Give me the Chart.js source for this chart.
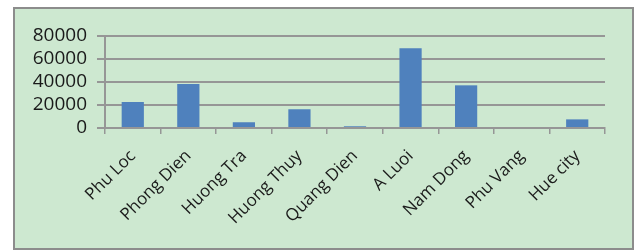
<!DOCTYPE html>
<html>
<head>
<meta charset="utf-8">
<script src="https://cdn.jsdelivr.net/npm/chart.js@4"></script>
<style>
  body { margin: 0; background: #ffffff; }
  #frame {
    position: absolute;
    left: 13px;
    top: 7px;
    width: 621px;
    height: 243px;
    box-sizing: border-box;
    border: 2px solid #8c8c8c;
    background: #cde8d0;
  }
  #chart { display: block; }
</style>
</head>
<body>
<div id="frame">
  <canvas id="chart" width="617" height="239"></canvas>
</div>
<script>
// districts and their values
const districts = ["Phu Loc", "Phong Dien", "Huong Tra", "Huong Thuy", "Quang Dien",
                   "A Luoi", "Nam Dong", "Phu Vang", "Hue city"];
const values = [22600, 38200, 5000, 16300, 1500, 69300, 37100, 0, 7500];
const yTicks = [0, 20000, 40000, 60000, 80000];

const gridColor = "#969696";
const textColor = "#1a1a1a";

const ctx = document.getElementById("chart");

new Chart(ctx, {
    type: "bar",
    data: {
        labels: districts,
        datasets: [{
            data: values,
            backgroundColor: "#4f81bd",
            borderWidth: 0,
            barPercentage: 0.4,
            categoryPercentage: 1
        }]
    },
    options: {
        responsive: false,
        animation: false,
        devicePixelRatio: 1,
        layout: {
            padding: { top: 27, right: 27, left: 0, bottom: 0 }
        },
        plugins: {
            legend: { display: false },
            tooltip: { enabled: false }
        },
        scales: {
            x: {
                grid: {
                    drawOnChartArea: false,
                    color: gridColor,
                    lineWidth: 1.5,
                    tickLength: 6
                },
                border: { color: gridColor, width: 2 },
                ticks: {
                    color: textColor,
                    font: { family: "Open Sans", size: 17 },
                    minRotation: 45,
                    maxRotation: 45,
                    autoSkip: false,
                    padding: 12
                },
                afterFit: (scale) => { scale.height = 120; }
            },
            y: {
                min: 0,
                max: 80000,
                afterBuildTicks: (scale) => {
                    scale.ticks = yTicks.map(v => ({ value: v }));
                },
                grid: {
                    color: gridColor,
                    lineWidth: 2,
                    tickLength: 8
                },
                border: { color: gridColor, width: 2 },
                ticks: {
                    color: textColor,
                    font: { family: "Open Sans", size: 19 },
                    padding: 10,
                    autoSkip: false,
                    callback: (v) => String(v)
                },
                afterFit: (scale) => { scale.width = 90; }
            }
        }
    }
});
</script>
</body>
</html>
